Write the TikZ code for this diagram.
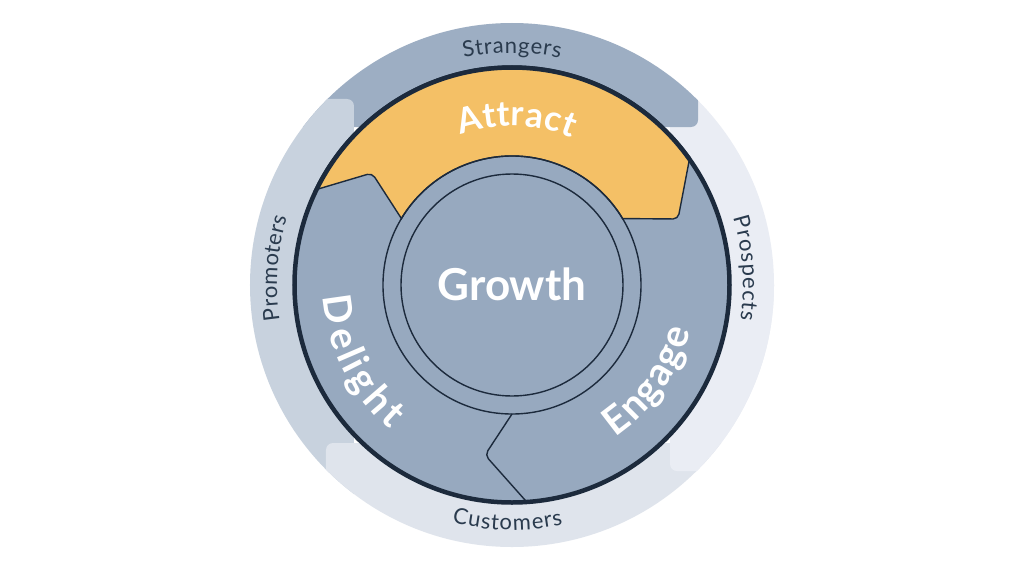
\documentclass[tikz,border=0pt]{standalone}
\usepackage{fontspec}
\setmainfont{Lato}
\usetikzlibrary{decorations.text}
\definecolor{diskC}{HTML}{97A9BF}
\definecolor{yelC}{HTML}{F4C066}
\definecolor{lineC}{HTML}{1C2A3C}
\definecolor{strC}{HTML}{9DAEC3}
\definecolor{proC}{HTML}{C8D2DE}
\definecolor{cusC}{HTML}{DFE4EC}
\definecolor{prsC}{HTML}{EAEDF4}
\definecolor{labC}{HTML}{2A3B4E}
\newcommand\bigfnt{\fontsize{39}{39}\selectfont\bfseries}
\newcommand\attfnt{\fontsize{35}{35}\selectfont\bfseries}
\newcommand\labfnt{\fontsize{22}{22}\selectfont}
\newcommand\growfnt{\fontsize{44}{44}\selectfont\bfseries}
\begin{document}
\begin{tikzpicture}[x=1pt,y=1pt,
  seg/.style={rounded corners=7pt},
  thinline/.style={draw=lineC, line width=1.4pt},
  bigtxt/.style={decorate, decoration={text effects along path, text={#1},
     text effects/.cd, fit text to path,
     characters={text along path, font=\bigfnt, text=white}}},
  atttxt/.style={decorate, decoration={text effects along path, text={#1},
     text effects/.cd, fit text to path,
     characters={text along path, font=\attfnt, text=white}}},
  labtxt/.style={decorate, decoration={text effects along path, text={#1},
     text effects/.cd, fit text to path,
     characters={text along path, font=\labfnt, text=labC}}}]
\useasboundingbox (-512,-291) rectangle (512,285);
\fill[white] (-512,-291) rectangle (512,285);
% outer ring segments
\begin{scope}
  \clip (0,0) circle (262);
  \fill[prsC, seg] (158,400) -- (158,-186) -- (400,-186) -- (400,400) -- cycle;
  \fill[strC, seg] (-400,158) -- (186,158) -- (186,400) -- (-400,400) -- cycle;
  \fill[proC, seg] (-158,-400) -- (-158,186) -- (-400,186) -- (-400,-400) -- cycle;
  \fill[cusC, seg] (400,-158) -- (-186,-158) -- (-186,-400) -- (400,-400) -- cycle;
  \clip (-400,0) rectangle (400,-400);
  \fill[prsC, seg] (158,400) -- (158,-186) -- (400,-186) -- (400,400) -- cycle;
\end{scope}
% main disk
\fill[diskC] (0,0) circle (219);
% attract band
\filldraw[fill=yelC, thinline]
  (154.3:219) [rounded corners=5pt] -- (-140,112) [sharp corners] -- (149:129)
  arc[start angle=149, end angle=31, radius=129]
  [rounded corners=5pt] -- (166,66) [sharp corners] -- (35.7:219)
  arc[start angle=35.7, end angle=154.3, radius=219] -- cycle;
% delight / engage separator
\draw[thinline, rounded corners=5pt] (-90:129) -- (-27,-170) -- (-85.8:219);
% circles
\draw[thinline] (0,0) circle (129);
\draw[thinline] (0,0) circle (111);
\draw[lineC, line width=4.5pt] (0,0) circle (217.5);
% labels
\node[font=\growfnt, text=white] (growth) at (0,1) {Growth};
\path[atttxt={Attract}] (109:159) arc[start angle=109, end angle=68, radius=159];
\path[bigtxt={Delight}] (183.6:189) arc[start angle=183.6, end angle=229.8, radius=189];
\path[bigtxt={Engage}] (-55.9:184) arc[start angle=-55.9, end angle=-14.2, radius=184];
\path[labtxt={Strangers}] (102:232) arc[start angle=102, end angle=78, radius=232];
\path[labtxt={Prospects}] (16.9:231) arc[start angle=16.9, end angle=-8.7, radius=231];
\path[labtxt={Customers}] (-104.2:245) arc[start angle=-104.2, end angle=-78, radius=245];
\path[labtxt={Promoters}] (188.6:235) arc[start angle=188.6, end angle=163.2, radius=235];
\end{tikzpicture}
\end{document}
